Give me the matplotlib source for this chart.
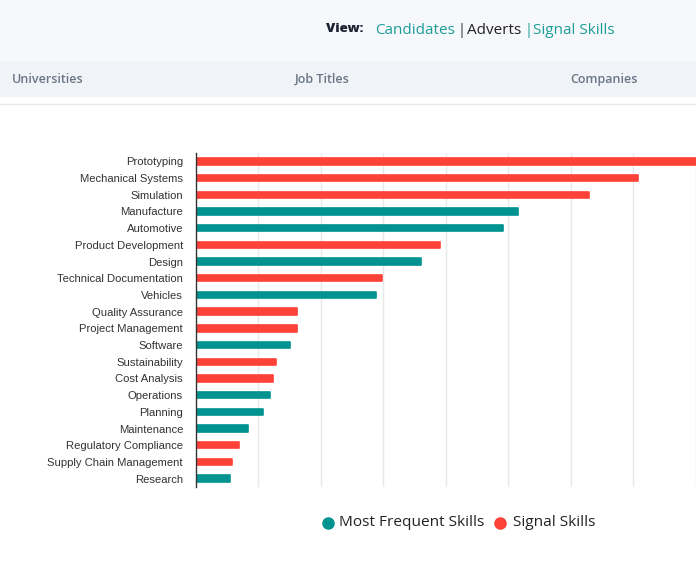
import matplotlib
matplotlib.use("Agg")
import matplotlib.pyplot as plt
from matplotlib.patches import Rectangle
from matplotlib.lines import Line2D

skills = ["Prototyping", "Mechanical Systems", "Simulation", "Manufacture", "Automotive",
          "Product Development", "Design", "Technical Documentation", "Vehicles",
          "Quality Assurance", "Project Management", "Software", "Sustainability",
          "Cost Analysis", "Operations", "Planning", "Maintenance",
          "Regulatory Compliance", "Supply Chain Management", "Research"]
values = [81, 70.8, 63.0, 51.6, 49.1, 39.0, 36.1, 29.8, 28.9, 16.1,
          16.1, 15.0, 12.8, 12.4, 11.8, 10.7, 8.4, 6.9, 5.8, 5.4]
kinds = ["signal", "signal", "signal", "frequent", "frequent", "signal", "frequent",
         "signal", "frequent", "signal", "signal", "frequent", "signal", "signal",
         "frequent", "frequent", "frequent", "signal", "signal", "frequent"]
legend_labels = ["Most Frequent Skills", "Signal Skills"]

TEAL = "#00938f"
RED = "#ff4238"
colors = {"frequent": TEAL, "signal": RED}

W, H = 696, 561
fig = plt.figure(figsize=(W / 100, H / 100), dpi=100)
fig.patch.set_facecolor("white")

def fx(px):
    return px / W

def fy(py):
    return 1 - py / H

# header backgrounds
fig.patches.append(Rectangle((0, fy(61)), 1, 61 / H, transform=fig.transFigure,
                             facecolor="#f7f8fc", edgecolor="none", zorder=0))
fig.patches.append(Rectangle((0, fy(97)), 1, 36 / H, transform=fig.transFigure,
                             facecolor="#f0f3f7", edgecolor="none", zorder=0))
fig.lines.append(Line2D([0, 1], [fy(104), fy(104)], transform=fig.transFigure,
                        color="#e4e8ee", lw=1))

hfont = "Open Sans"
fig.text(fx(326), fy(29), "View:", fontsize=9.6, fontweight="heavy", color="#1b2432",
         family=hfont, va="center", ha="left")
fig.text(fx(375), fy(30), "Candidates", fontsize=11, color="#1a9e96",
         family=hfont, va="center", ha="left")
fig.text(fx(457.5), fy(30), "|", fontsize=10.5, color="#333333",
         family=hfont, va="center", ha="left")
fig.text(fx(467), fy(30), "Adverts", fontsize=11, color="#222222",
         family=hfont, va="center", ha="left")
fig.text(fx(524), fy(30), "|", fontsize=10.5, color="#1a9e96",
         family=hfont, va="center", ha="left")
fig.text(fx(533), fy(30), "Signal Skills", fontsize=11, color="#1a9e96",
         family=hfont, va="center", ha="left")

for x, t in [(12, "Universities"), (295, "Job Titles"), (570, "Companies")]:
    fig.text(fx(x), fy(79.5), t, fontsize=9, color="#6b7686", fontweight="semibold",
             family=hfont, va="center", ha="left")

# chart axes
ax = fig.add_axes([fx(196), fy(487), 500 / W, (487 - 153) / H])
ypos = list(range(len(skills)))
ax.barh(ypos, values, height=0.38, color=[colors[k] for k in kinds],
        edgecolor=[colors[k] for k in kinds], linewidth=1.2, joinstyle="round", zorder=3)
ax.set_ylim(len(skills) - 0.5, -0.5)
ax.set_xlim(0, 80.06)
ax.set_yticks(ypos)
ax.set_yticklabels(skills, fontsize=8.1, color="#333333", family="Liberation Sans")
ax.tick_params(axis="y", length=0, pad=9.3)
ax.tick_params(axis="x", length=0, labelbottom=False)
ax.set_xticks(range(10, 81, 10))
ax.grid(axis="x", color="#e8e8e8", lw=1, zorder=0)
for s in ["top", "right", "bottom"]:
    ax.spines[s].set_visible(False)
ax.spines["left"].set_color("#333333")
ax.spines["left"].set_linewidth(1)
ax.spines["left"].set_zorder(4)
ax.set_facecolor("none")

# legend
lx = [(328, 339), (500, 513)]
for (cx, tx), lab, col in zip(lx, legend_labels, [TEAL, RED]):
    fig.lines.append(Line2D([fx(cx)], [fy(523)], transform=fig.transFigure,
                            marker="o", markersize=8, color=col, linestyle="none"))
    fig.text(fx(tx), fy(523), lab, fontsize=11.1, color="#222222", family=hfont,
             va="center", ha="left")

fig.savefig("out.png", dpi=100)
